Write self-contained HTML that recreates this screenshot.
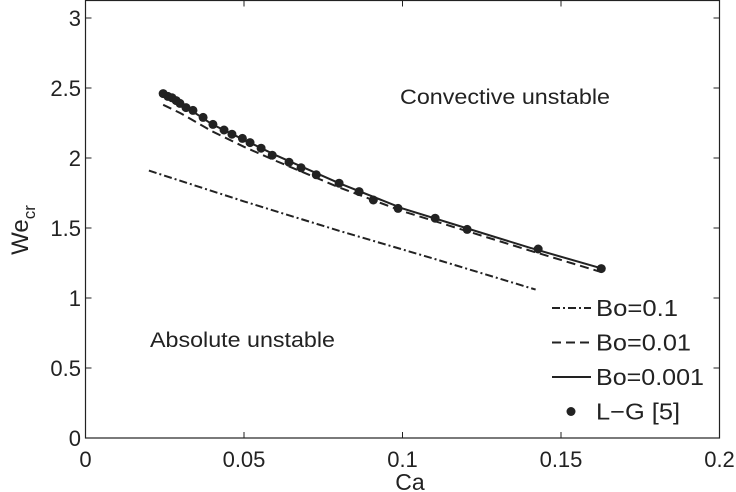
<!DOCTYPE html>
<html><head><meta charset="utf-8"><style>
html,body{margin:0;padding:0;background:#fff;}
svg{display:block;font-family:"Liberation Sans",sans-serif;}
</style></head><body>
<svg id="chart" width="736" height="492" viewBox="0 0 736 492" xmlns="http://www.w3.org/2000/svg"></svg>
<script>
const xTicks=[0,0.05,0.1,0.15,0.2];
const xTickLabels=["0","0.05","0.1","0.15","0.2"];
const yTicks=[0,0.5,1,1.5,2,2.5,3];
const yTickLabels=["0","0.5","1","1.5","2","2.5","3"];
const lgX=[0.0245,0.0260,0.0273,0.0286,0.0298,0.0317,0.0339,0.0371,0.0402,0.0437,0.0462,0.0495,0.0519,0.0554,0.0589,0.0642,0.0680,0.0728,0.0800,0.0863,0.0908,0.0986,0.1103,0.1204,0.1428,0.1627];
const lgY=[2.46,2.44,2.43,2.41,2.39,2.36,2.34,2.29,2.24,2.20,2.17,2.14,2.11,2.07,2.02,1.97,1.93,1.88,1.82,1.76,1.70,1.64,1.57,1.49,1.35,1.21];
const bo001X=[0.0245,0.03,0.04,0.05,0.06,0.08,0.1,0.12,0.14,0.163];
const bo001Y=[2.45,2.39,2.24,2.13,2.02,1.82,1.64,1.50,1.36,1.21];
const bo01X=[0.0245,0.03,0.04,0.05,0.06,0.08,0.1,0.12,0.14,0.162];
const bo01Y=[2.38,2.32,2.19,2.08,1.98,1.79,1.62,1.48,1.34,1.19];
const bo1X=[0.02,0.05,0.08,0.11,0.142];
const bo1Y=[1.91,1.69,1.48,1.28,1.06];

const NS="http://www.w3.org/2000/svg";
const svg=document.getElementById('chart');
const L=85.5,R=719.5,B=438,T=0.5;
const sx=v=>L+v/0.2*(R-L);
const sy=v=>B-v*140;
function mk(tag,attrs,parent){const e=document.createElementNS(NS,tag);for(const k in attrs)e.setAttribute(k,attrs[k]);(parent||svg).appendChild(e);return e;}

const frame=mk('rect',{x:L,y:T,width:R-L,height:B-T,fill:'none',stroke:'#222','stroke-width':1.2});



xTicks.forEach((v,i)=>{
  const t=mk('path',{d:`M${sx(v)},${B}v-6M${sx(v)},${T}v6`,stroke:'#222','stroke-width':1});
  
  
  const lb=mk('text',{x:sx(v),y:467,'font-size':22,'text-anchor':'middle',fill:'#222'});
  lb.textContent=xTickLabels[i];
  
  
});
yTicks.forEach((v,i)=>{
  const t=mk('path',{d:`M${L},${sy(v)}h6M${R},${sy(v)}h-6`,stroke:'#222','stroke-width':1});
  
  
  const lb=mk('text',{x:81,y:sy(v)+8,'font-size':22,'text-anchor':'end',fill:'#222'});
  lb.textContent=yTickLabels[i];
  
  
});

function line(xs,ys,dash,name){
  const p=mk('polyline',{points:xs.map((x,i)=>sx(x)+','+sy(ys[i])).join(' '),fill:'none',stroke:'#222','stroke-width':2,'stroke-dasharray':dash});
  
  
}
line(bo1X,bo1Y,'8 3 2 3','line-bo-0.1');
line(bo01X,bo01Y,'9 5','line-bo-0.01');
line(bo001X,bo001Y,'none','line-bo-0.001');
lgX.forEach((x,i)=>{
  const c=mk('circle',{cx:sx(x),cy:sy(lgY[i]),r:4.5,fill:'#222'});
  
  
});

const leg=[['8 3 2 3','Bo=0.1',82],['9 5','Bo=0.01',95],['none','Bo=0.001',108],[null,'L\u2212G [5]',84]];
leg.forEach((e,i)=>{
  const y=308+i*34.5;
  if(e[0]){
    const l=mk('line',{x1:552,x2:591,y1:y,y2:y,stroke:'#222','stroke-width':2,'stroke-dasharray':e[0]});
    
    
  } else {
    const c=mk('circle',{cx:571,cy:y,r:4.5,fill:'#222'});
    
    
  }
  const t=mk('text',{x:596,y:y+8,'font-size':23,fill:'#222',textLength:e[2],lengthAdjust:'spacingAndGlyphs'});
  t.textContent=e[1];
  
  
});

const a1=mk('text',{x:400,y:104,'font-size':21,fill:'#222',textLength:210,lengthAdjust:'spacingAndGlyphs'});
a1.textContent='Convective unstable';


const a2=mk('text',{x:150,y:347,'font-size':21,fill:'#222',textLength:185,lengthAdjust:'spacingAndGlyphs'});
a2.textContent='Absolute unstable';



const xl=mk('text',{x:410,y:490,'font-size':23,'text-anchor':'middle',fill:'#222'});
xl.textContent='Ca';


const yl=mk('text',{transform:'translate(28,230) rotate(-90)','font-size':24,'text-anchor':'middle',fill:'#222'});


const t1=mk('tspan',{},yl);t1.textContent='We';
const t2=mk('tspan',{'font-size':17,dy:7},yl);t2.textContent='cr';
</script>
</body></html>
